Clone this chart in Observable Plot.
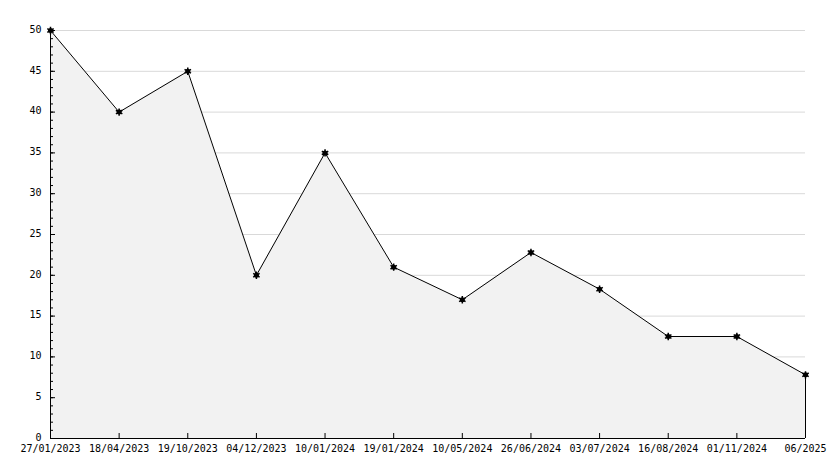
<!DOCTYPE html>
<html>
<head>
<meta charset="utf-8">
<script src="https://cdn.jsdelivr.net/npm/d3@7"></script>
<script src="https://cdn.jsdelivr.net/npm/@observablehq/plot@0.6"></script>
<style>
  html, body { margin: 0; padding: 0; background: #fff; }
</style>
</head>
<body>
<div id="chart"></div>
<script>
const dates = ["27/01/2023","18/04/2023","19/10/2023","04/12/2023","10/01/2024","19/01/2024","10/05/2024","26/06/2024","03/07/2024","16/08/2024","01/11/2024","06/2025"];
const values = [50, 40, 45, 20, 35, 21, 17, 22.8, 18.3, 12.5, 12.5, 7.8];
const majorTicks = d3.range(0, 51, 5);
const minorTicks = d3.range(0, 51, 1);

const data = dates.map((d, i) => ({i, date: d, value: values[i]}));
const idx = data.map(d => d.i);
const last = data[data.length - 1];

const chart = Plot.plot({
  width: 834,
  height: 468,
  marginLeft: 50,
  marginRight: 29,
  marginTop: 30,
  marginBottom: 30,
  style: {fontFamily: "'DejaVu Sans Mono', monospace", fontSize: "10px", color: "#000", background: "#fff"},
  x: {type: "linear", domain: [0, dates.length - 1]},
  y: {domain: [0, 50]},
  marks: [
    Plot.gridY(majorTicks.filter(t => t > 0), {stroke: "#d9d9d9", strokeOpacity: 1}),
    Plot.areaY(data, {x: "i", y: "value", fill: "#f2f2f2"}),
    Plot.line(data, {x: "i", y: "value", stroke: "#000", strokeWidth: 1}),
    Plot.ruleX([last], {x: "i", y1: 0, y2: "value", stroke: "#000"}),
    Plot.ruleX([0], {stroke: "#000"}),
    Plot.ruleY([0], {stroke: "#000"}),
    Plot.axisY(minorTicks, {anchor: "left", tickSize: -3, tickFormat: () => "", label: null}),
    Plot.axisY(majorTicks, {anchor: "left", tickSize: -5, tickFormat: () => "", label: null}),
    Plot.axisY(majorTicks, {anchor: "left", tickSize: 0, tickPadding: 9, dy: -1, label: null, fill: "#000"}),
    Plot.axisX(idx, {anchor: "bottom", tickSize: -5, tickFormat: () => "", label: null}),
    Plot.axisX(idx, {anchor: "bottom", tickSize: 0, tickPadding: 6, tickFormat: i => dates[i], label: null, fill: "#000"}),
    Plot.dot(data, {x: "i", y: "value", r: 2.5, fill: "#000"}),
    Plot.dot(data, {x: "i", y: "value", r: 3.5, symbol: "asterisk", stroke: "#000", strokeWidth: 1.5})
  ]
});
document.getElementById("chart").append(chart);
</script>
</body>
</html>
